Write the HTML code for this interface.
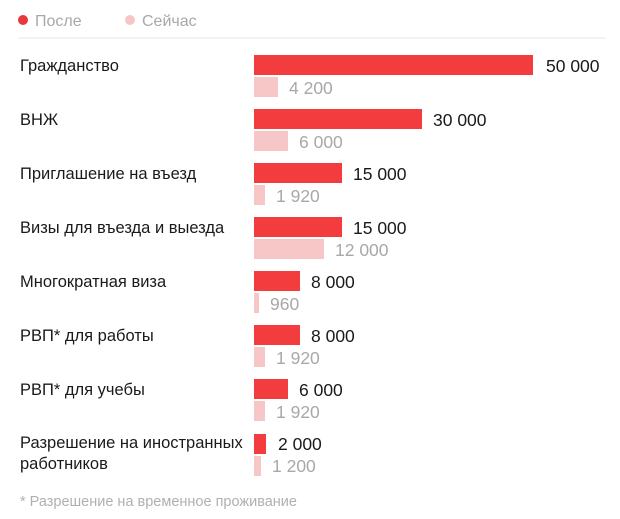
<!DOCTYPE html>
<html><head><meta charset="utf-8"><style>
html,body{margin:0;padding:0;background:#fff;}
svg{display:block;font-family:"Liberation Sans",sans-serif;}
.l{font-size:16.5px;fill:#1a1a1a;}
.v{font-size:17.5px;fill:#1a1a1a;}
.p{font-size:17.5px;fill:#a8a8a8;}
</style></head><body>
<svg width="620" height="519" viewBox="0 0 620 519">
<circle cx="23" cy="20" r="5" fill="#e8383a"/>
<text x="35" y="26" font-size="16" fill="#a8a8a8">После</text>
<circle cx="130" cy="20" r="5" fill="#f6c6c6"/>
<text x="142" y="26" font-size="16" fill="#a8a8a8">Сейчас</text>
<line x1="18" y1="38" x2="606" y2="38" stroke="#e6e6e6" stroke-width="1"/>

<g>
<text class="l" x="20" y="71">Гражданство</text>
<rect x="254" y="55" width="279" height="20" fill="#f23c3e"/>
<text class="v" x="546" y="72">50 000</text>
<rect x="254" y="77" width="24" height="20" fill="#f7c6c6"/>
<text class="p" x="289" y="94">4 200</text>
</g>
<g transform="translate(0,54)">
<text class="l" x="20" y="71">ВНЖ</text>
<rect x="254" y="55" width="168" height="20" fill="#f23c3e"/>
<text class="v" x="433" y="72">30 000</text>
<rect x="254" y="77" width="34" height="20" fill="#f7c6c6"/>
<text class="p" x="299" y="94">6 000</text>
</g>
<g transform="translate(0,108)">
<text class="l" x="20" y="71">Приглашение на въезд</text>
<rect x="254" y="55" width="88" height="20" fill="#f23c3e"/>
<text class="v" x="353" y="72">15 000</text>
<rect x="254" y="77" width="11" height="20" fill="#f7c6c6"/>
<text class="p" x="276" y="94">1 920</text>
</g>
<g transform="translate(0,162)">
<text class="l" x="20" y="71">Визы для въезда и выезда</text>
<rect x="254" y="55" width="88" height="20" fill="#f23c3e"/>
<text class="v" x="353" y="72">15 000</text>
<rect x="254" y="77" width="70" height="20" fill="#f7c6c6"/>
<text class="p" x="335" y="94">12 000</text>
</g>
<g transform="translate(0,216)">
<text class="l" x="20" y="71">Многократная виза</text>
<rect x="254" y="55" width="46" height="20" fill="#f23c3e"/>
<text class="v" x="311" y="72">8 000</text>
<rect x="254" y="77" width="5" height="20" fill="#f7c6c6"/>
<text class="p" x="270" y="94">960</text>
</g>
<g transform="translate(0,270)">
<text class="l" x="20" y="71">РВП* для работы</text>
<rect x="254" y="55" width="46" height="20" fill="#f23c3e"/>
<text class="v" x="311" y="72">8 000</text>
<rect x="254" y="77" width="11" height="20" fill="#f7c6c6"/>
<text class="p" x="276" y="94">1 920</text>
</g>
<g transform="translate(0,324)">
<text class="l" x="20" y="71">РВП* для учебы</text>
<rect x="254" y="55" width="34" height="20" fill="#f23c3e"/>
<text class="v" x="299" y="72">6 000</text>
<rect x="254" y="77" width="11" height="20" fill="#f7c6c6"/>
<text class="p" x="276" y="94">1 920</text>
</g>
<g transform="translate(0,378)">
<text class="l" x="20" y="70">Разрешение на иностранных</text>
<text class="l" x="20" y="91">работников</text>
<rect x="254" y="56" width="12" height="20" fill="#f23c3e"/>
<text class="v" x="278" y="72">2 000</text>
<rect x="254" y="78" width="7" height="20" fill="#f7c6c6"/>
<text class="p" x="272" y="94">1 200</text>
</g>
<text x="20" y="506" font-size="14.5" fill="#b0b0b0">* Разрешение на временное проживание</text>
</svg>
</body></html>
